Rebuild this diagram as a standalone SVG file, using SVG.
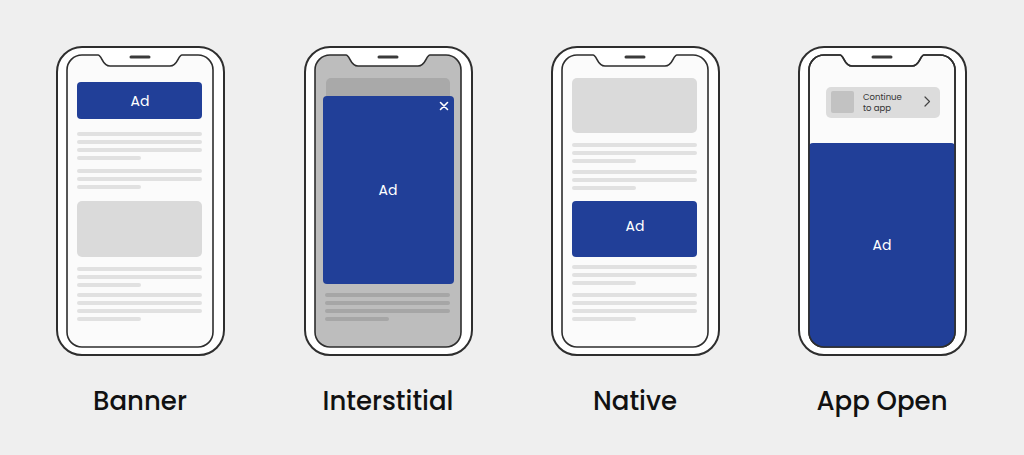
<svg xmlns="http://www.w3.org/2000/svg" width="1024" height="455" viewBox="0 0 1024 455">
<style>
.outer{fill:#fff;stroke:#2e2e2e;stroke-width:2}
.screen{fill:#fbfbfb;stroke:#2e2e2e;stroke-width:1.6}
.spk{stroke:#3a3a3a;stroke-width:3;stroke-linecap:round}
.ln{stroke:#e1e1e1;stroke-width:4;stroke-linecap:round}
.lnd{stroke:#a6a6a6;stroke-width:4;stroke-linecap:round}
.box{fill:#dadada}
.ad{fill:#213f98}
.adt{font-family:Poppins,"Noto Sans","Liberation Sans",sans-serif;font-size:14px;fill:#fff;text-anchor:middle}
.lab{font-family:Poppins,"Noto Sans","Liberation Sans",sans-serif;font-size:26px;font-weight:500;fill:#111;text-anchor:middle}
</style>
<defs>
<path id="scr" d="M82 55H98C102 55 102 66 110 66H170C178 66 178 55 182 55H198A15 15 0 0 1 213 70V332A15 15 0 0 1 198 347H82A15 15 0 0 1 67 332V70A15 15 0 0 1 82 55Z"/>
<rect id="frame" x="57" y="47" width="167" height="308" rx="25"/>
</defs>
<rect width="1024" height="455" fill="#efefef"/>

<g id="banner">
<use href="#frame" class="outer"/>
<use href="#scr" class="screen"/>
<line class="spk" x1="131" y1="57" x2="149" y2="57"/>
<rect class="ad" x="77" y="82" width="125" height="37" rx="4"/>
<text class="adt" x="140" y="106">Ad</text>
<line class="ln" x1="79" y1="134" x2="200" y2="134"/>
<line class="ln" x1="79" y1="142" x2="200" y2="142"/>
<line class="ln" x1="79" y1="150" x2="200" y2="150"/>
<line class="ln" x1="79" y1="158" x2="139" y2="158"/>
<line class="ln" x1="79" y1="171" x2="200" y2="171"/>
<line class="ln" x1="79" y1="179" x2="200" y2="179"/>
<line class="ln" x1="79" y1="187" x2="139" y2="187"/>
<rect class="box" x="77" y="201" width="125" height="56" rx="5"/>
<line class="ln" x1="79" y1="269" x2="200" y2="269"/>
<line class="ln" x1="79" y1="277" x2="200" y2="277"/>
<line class="ln" x1="79" y1="285" x2="139" y2="285"/>
<line class="ln" x1="79" y1="295" x2="200" y2="295"/>
<line class="ln" x1="79" y1="303" x2="200" y2="303"/>
<line class="ln" x1="79" y1="311" x2="200" y2="311"/>
<line class="ln" x1="79" y1="319" x2="139" y2="319"/>
<text class="lab" x="140" y="410">Banner</text>
</g>

<g id="interstitial">
<g transform="translate(248 0)">
<use href="#frame" class="outer"/>
<use href="#scr" class="screen" style="fill:#bdbdbd"/>
<line class="spk" x1="131" y1="57" x2="149" y2="57"/>
<rect x="78" y="78" width="124" height="30" rx="5" fill="#a9a9a9"/>
<line class="lnd" x1="79" y1="295" x2="200" y2="295"/>
<line class="lnd" x1="79" y1="303" x2="200" y2="303"/>
<line class="lnd" x1="79" y1="311" x2="200" y2="311"/>
<line class="lnd" x1="79" y1="319" x2="139" y2="319"/>
<rect class="ad" x="75" y="96" width="131" height="188" rx="4"/>
<path d="M192.5 102.5L199.5 109.5M199.5 102.5L192.5 109.5" stroke="#fff" stroke-width="1.6" stroke-linecap="round"/>
<text class="adt" x="140" y="195">Ad</text>
</g>
<text class="lab" x="388" y="410">Interstitial</text>
</g>

<g id="native">
<g transform="translate(495 0)">
<use href="#frame" class="outer"/>
<use href="#scr" class="screen"/>
<line class="spk" x1="131" y1="57" x2="149" y2="57"/>
<rect class="box" x="77" y="78" width="125" height="55" rx="5"/>
<line class="ln" x1="79" y1="145" x2="200" y2="145"/>
<line class="ln" x1="79" y1="153" x2="200" y2="153"/>
<line class="ln" x1="79" y1="161" x2="139" y2="161"/>
<line class="ln" x1="79" y1="172" x2="200" y2="172"/>
<line class="ln" x1="79" y1="180" x2="200" y2="180"/>
<line class="ln" x1="79" y1="188" x2="139" y2="188"/>
<rect class="ad" x="77" y="201" width="125" height="56" rx="4"/>
<text class="adt" x="140" y="231">Ad</text>
<line class="ln" x1="79" y1="267" x2="200" y2="267"/>
<line class="ln" x1="79" y1="275" x2="200" y2="275"/>
<line class="ln" x1="79" y1="283" x2="139" y2="283"/>
<line class="ln" x1="79" y1="295" x2="200" y2="295"/>
<line class="ln" x1="79" y1="303" x2="200" y2="303"/>
<line class="ln" x1="79" y1="311" x2="200" y2="311"/>
<line class="ln" x1="79" y1="319" x2="139" y2="319"/>
</g>
<text class="lab" x="635" y="410">Native</text>
</g>

<g id="app-open">
<g transform="translate(742 0)">
<use href="#frame" class="outer"/>
<use href="#scr" class="screen"/>
<line class="spk" x1="131" y1="57" x2="149" y2="57"/>
<rect x="84" y="87" width="114" height="31" rx="5" fill="#dcdcdc"/>
<rect x="89" y="91" width="23" height="22" rx="2" fill="#c2c2c2"/>
<text x="121" y="100" font-family="Poppins,'Noto Sans','Liberation Sans',sans-serif" font-size="8.5" fill="#333">Continue</text>
<text x="121" y="110.5" font-family="Poppins,'Noto Sans','Liberation Sans',sans-serif" font-size="8.5" fill="#333">to app</text>
<path d="M183 97L187.5 101.5L183 106" fill="none" stroke="#444" stroke-width="1.2" stroke-linecap="round" stroke-linejoin="round"/>
<path class="ad" d="M67 147A4 4 0 0 1 71 143H209A4 4 0 0 1 213 147V332A15 15 0 0 1 198 347H82A15 15 0 0 1 67 332Z"/>
<use href="#scr" fill="none" stroke="#2e2e2e" stroke-width="1.6"/>
<text class="adt" x="140" y="250">Ad</text>
</g>
<text class="lab" x="882" y="410">App Open</text>
</g>
</svg>
